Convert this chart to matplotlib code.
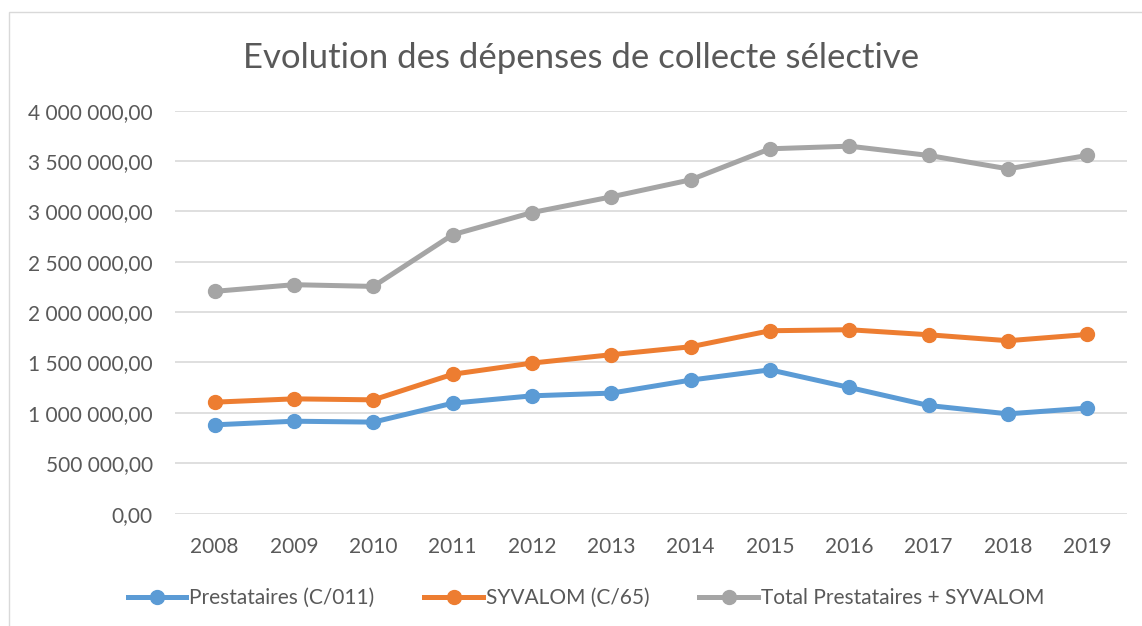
import matplotlib
matplotlib.use("Agg")
import matplotlib.pyplot as plt
from matplotlib.patches import Rectangle
from matplotlib.ticker import FuncFormatter

# ---------- data ----------
years = ["2008", "2009", "2010", "2011", "2012", "2013",
         "2014", "2015", "2016", "2017", "2018", "2019"]
prestataires = [881000, 917000, 908000, 1096000, 1169000, 1196000,
                1325000, 1427000, 1252000, 1073000, 990000, 1047000]
syvalom = [1106000, 1139000, 1129000, 1383000, 1494000, 1577000,
           1656000, 1815000, 1825000, 1775000, 1716000, 1778000]
total = [2206000, 2272000, 2255000, 2768000, 2988000, 3144000,
         3313000, 3621000, 3647000, 3555000, 3422000, 3555000]
series_names = ["Prestataires (C/011)", "SYVALOM (C/65)",
                "Total Prestataires + SYVALOM"]

BLUE = "#5B9BD5"
ORANGE = "#ED7D31"
GREY = "#A5A5A5"
TEXT = "#595959"
GRID = "#D9D9D9"

plt.rcParams["font.family"] = ["Lato", "DejaVu Sans"]

W, H = 1142, 626
fig = plt.figure(figsize=(W / 100, H / 100), dpi=100, facecolor="white")

# chart frame (Excel-style border)
fig.patches.append(Rectangle((9 / W, -0.05), 1.2, 1 - 12 / H + 0.05,
                             transform=fig.transFigure, fill=False,
                             ec=GRID, lw=1.0))

ax = fig.add_axes([175 / W, (H - 513.6) / H, (1127 - 175) / W, (513.6 - 110.6) / H])

x = list(range(len(years)))
for vals, col, name in zip([prestataires, syvalom, total],
                           [BLUE, ORANGE, GREY], series_names):
    ax.plot(x, vals, color=col, lw=3.6, marker="o", ms=10,
            solid_joinstyle="round", label=name)

ax.set_xlim(-0.5, len(years) - 0.5)
ax.set_ylim(0, 4000000)
ax.set_yticks(range(0, 4000001, 500000))
ax.yaxis.set_major_formatter(
    FuncFormatter(lambda v, p: f"{v:,.2f}".replace(",", " ").replace(".", ",")))
ax.set_xticks(x)
ax.set_xticklabels(years)

ax.grid(axis="y", color=GRID, lw=1.2)
ax.set_axisbelow(True)
for s in ax.spines.values():
    s.set_visible(False)
ax.tick_params(axis="both", length=0, labelsize=15, colors=TEXT)
ax.tick_params(axis="y", pad=16)
ax.tick_params(axis="x", pad=17)

fig.text(581 / W, 1 - 58 / H, "Evolution des dépenses de collecte sélective",
         ha="center", va="center", fontsize=25, color=TEXT)

fig.legend(loc="center", bbox_to_anchor=(586 / W, 1 - 598 / H), ncol=3,
           frameon=False, fontsize=15, labelcolor=TEXT, handlelength=2.8,
           handletextpad=0.15, columnspacing=2.4, borderaxespad=0)

fig.savefig("out.png", dpi=100, facecolor="white")
